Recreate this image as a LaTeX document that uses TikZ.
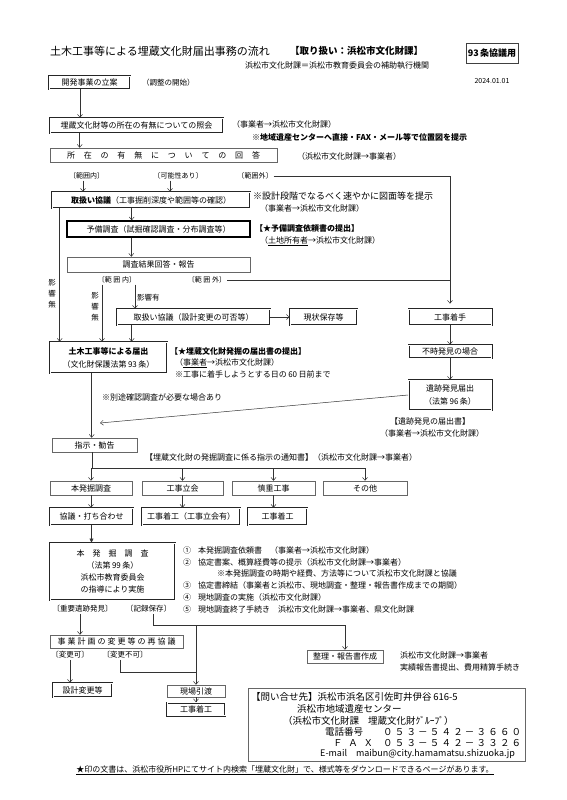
\documentclass[tikz,border=0pt]{standalone}
\usepackage{fontspec}
\setmainfont{Noto Sans CJK JP}
\usetikzlibrary{arrows.meta, calc}

\tikzset{
  sbox/.style={draw=black!60, line width=0.5pt, inner sep=0pt, align=center},
  dbox/.style={draw=black!85, double, double distance=0.8pt, line width=0.6pt, inner sep=0pt, align=center},
  tbox/.style={draw=black, line width=1.4pt, inner sep=0pt, align=center},
  arr/.style={-{Straight Barb[length=3pt,width=5pt]}, draw=black!80, line width=0.5pt},
  ln/.style={draw=black!80, line width=0.5pt},
  txt/.style={anchor=west, inner sep=0pt},
  lbl/.style={inner sep=1pt, font=\fontsize{7}{8}\selectfont},
}

\begin{document}
\begin{tikzpicture}[x=1pt, y=-1pt, every node/.style={font=\fontsize{8}{10}\selectfont}]
\useasboundingbox (0,0) rectangle (566,800);

% header
\node[txt, font=\fontsize{11}{13}\selectfont] (title) at (50,51) {土木工事等による埋蔵文化財届出事務の流れ};
\node[txt, font=\fontsize{9.5}{11}\selectfont\bfseries] (dept) at (290,51) {【取り扱い：浜松市文化財課】};
\node[txt] (hojo) at (245,66) {浜松市文化財課＝浜松市教育委員会の補助執行機関};
\node[sbox, draw=black!75, line width=0.7pt, minimum width=52, minimum height=20, font=\fontsize{9}{11}\selectfont\bfseries] (art93) at (492,53) {93\,条協議用};
\node[font=\fontsize{7}{8}\selectfont] (date) at (492,81) {2024.01.01};

% main flow
\node[dbox, minimum width=81, minimum height=13] (plan) at (89.5,82.5) {開発事業の立案};
\node[txt, font=\fontsize{7.5}{9}\selectfont] (chosei) at (142,82.5) {（調整の開始）};

\node[dbox, minimum width=173, minimum height=15] (inquiry) at (136.5,125.5) {埋蔵文化財等の所在の有無についての照会};
\node[txt] (n1) at (232,124) {（事業者→浜松市文化財課）};
\node[txt, font=\fontsize{8}{10}\selectfont\bfseries] (n2) at (252,137) {※地域遺産センターへ直接・FAX・メール等で位置図を提示};

\node[sbox, minimum width=227, minimum height=14] (answer) at (163.5,155) {\makebox[193pt][s]{所\hfill 在\hfill の\hfill 有\hfill 無\hfill に\hfill つ\hfill い\hfill て\hfill の\hfill 回\hfill 答}};
\node[txt] (n3) at (297,156) {（浜松市文化財課→事業者）};

\node[lbl] (in1) at (86.5,176) {〔範囲内〕};
\node[lbl] (maybe) at (178,176) {〔可能性あり〕};
\node[lbl] (out1) at (255,176) {〔範囲外〕};

\node[dbox, minimum width=198, minimum height=16] (consult1) at (151,200) {\textbf{取扱い協議}（工事掘削深度や範囲等の確認）};
\node[txt, font=\fontsize{9}{11}\selectfont] (n4) at (253,196) {※設計段階でなるべく速やかに図面等を提示};
\node[txt] (n5) at (260,208) {（事業者→浜松市文化財課）};

\node[tbox, minimum width=183, minimum height=16] (prelim) at (158.5,229) {予備調査（試掘確認調査・分布調査等）};
\node[txt, font=\fontsize{8}{10}\selectfont\bfseries] (n6) at (255,228) {【★予備調査依頼書の提出】};
\node[txt] (n7) at (260,241) {（\underline{土地所有者}→浜松市文化財課）};

\node[sbox, minimum width=183, minimum height=15] (result) at (158.5,264.5) {調査結果回答・報告};
\node[lbl] (in2) at (117,280) {〔範 囲 内〕};
\node[lbl] (out2) at (207,280) {〔範 囲 外〕};

\node[align=center, inner sep=0pt, font=\fontsize{7.5}{11}\selectfont] (noeff1) at (52,294) {影\\響\\無};
\node[align=center, inner sep=0pt, font=\fontsize{7.5}{11}\selectfont] (noeff2) at (95,307) {影\\響\\無};
\node[txt, font=\fontsize{7.5}{9}\selectfont] (eff) at (137,298) {影響有};

\node[dbox, minimum width=153, minimum height=16] (consult2) at (193.5,317) {取扱い協議（設計変更の可否等）};
\node[dbox, minimum width=67, minimum height=16] (preserve) at (323.5,317) {現状保存等};

\node[dbox, minimum width=83, minimum height=16] (start) at (450,317) {工事着手};
\node[dbox, minimum width=83, minimum height=13] (chance) at (450,351.5) {不時発見の場合};
\node[dbox, minimum width=83, minimum height=30, font=\fontsize{8}{13}\selectfont] (report96) at (450,395) {遺跡発見届出\\（法第\,96\,条）};
\node (n12) at (430,421) {【遺跡発見の届出書】};
\node (n13) at (432,433) {（事業者→浜松市文化財課）};

\node[dbox, minimum width=117, minimum height=31, font=\fontsize{8}{13}\selectfont] (notify93) at (108.5,357.5) {\textbf{土木工事等による届出}\\（文化財保護法第\,93\,条）};
\node[txt, font=\fontsize{8}{10}\selectfont\bfseries] (n8) at (170,351) {【★埋蔵文化財発掘の届出書の提出】};
\node[txt] (n9) at (175,363) {（\underline{事業者}→浜松市文化財課）};
\node[txt] (n10) at (175,374) {※工事に着手しようとする日の\,60\,日前まで};
\node[txt] (n11) at (102,397) {※別途確認調査が必要な場合あり};
\coordinate (hit) at (100,423);

\node[sbox, minimum width=85, minimum height=14] (instruct) at (94.5,445) {指示・勧告};
\node[txt] (n14) at (145,457) {【埋蔵文化財の発掘調査に係る指示の通知書】（浜松市文化財課→事業者）};
\coordinate (br) at (92,468);

\node[sbox, minimum width=82, minimum height=14] (honkutsu) at (91,488) {本発掘調査};
\node[sbox, minimum width=81, minimum height=14] (tachiai) at (182.5,488) {工事立会};
\node[sbox, minimum width=83, minimum height=14] (shincho) at (273.5,488) {慎重工事};
\node[sbox, minimum width=84, minimum height=14] (sonota) at (365,488) {その他};

\node[dbox, minimum width=83, minimum height=17] (kyogi) at (91.5,516.5) {協議・打ち合わせ};
\node[dbox, minimum width=98, minimum height=17] (chakko1) at (191,516.5) {工事着工（工事立会有）};
\node[dbox, minimum width=59, minimum height=17] (chakko2) at (277.5,516.5) {工事着工};

\node[dbox, line width=0.8pt, minimum width=125, minimum height=57, font=\fontsize{8}{12.3}\selectfont] (excav) at (112.5,571.5) {\makebox[72pt][s]{本\hfill 発\hfill 掘\hfill 調\hfill 査}\\（法第\,99\,条）\\浜松市教育委員会\\の指導により実施};

\node[txt] (li1) at (183,550) {①\hspace{7pt}本発掘調査依頼書\hspace{8pt}（事業者→浜松市文化財課）};
\node[txt] (li2) at (183,562) {②\hspace{7pt}協定書案、概算経費等の提示（浜松市文化財課→事業者）};
\node[txt] (li2a) at (217,573) {※本発掘調査の時期や経費、方法等について浜松市文化財課と協議};
\node[txt] (li3) at (183,585) {③\hspace{7pt}協定書締結（事業者と浜松市、現地調査・整理・報告書作成までの期間）};
\node[txt] (li4) at (183,597) {④\hspace{7pt}現地調査の実施（浜松市文化財課）};
\node[txt] (li5) at (183,609) {⑤\hspace{7pt}現地調査終了手続き\hspace{8pt}浜松市文化財課→事業者、県文化財課};

\node[lbl, font=\fontsize{7.5}{9}\selectfont] (juyo) at (82.5,609) {〔重要遺跡発見〕};
\node[lbl, font=\fontsize{7.5}{9}\selectfont] (kiroku) at (148.5,609) {〔記録保存〕};
\coordinate (rec) at (195,625);

\node[sbox, minimum width=133, minimum height=13] (replan) at (116.5,641.5) {\makebox[118pt][s]{事\hfill 業\hfill 計\hfill 画\hfill の\hfill 変\hfill 更\hfill 等\hfill の\hfill 再\hfill 協\hfill 議}};
\node[lbl, font=\fontsize{7.5}{9}\selectfont] (henkoka) at (70,655) {〔変更可〕};
\node[lbl, font=\fontsize{7.5}{9}\selectfont] (fuka) at (125,655) {〔変更不可〕};
\coordinate (jn) at (195,672);

\node[dbox, minimum width=59, minimum height=14] (design) at (82.5,690) {設計変更等};
\node[sbox, minimum width=58, minimum height=12] (handover) at (196,691) {現場引渡};
\node[dbox, minimum width=58, minimum height=13] (chakko3) at (196,709) {工事着工};

\node[sbox, minimum width=76, minimum height=13] (seiri) at (345,656.5) {整理・報告書作成};
\node[txt] (s1) at (400,655) {浜松市文化財課→事業者};
\node[txt] (s2) at (400,667) {実績報告書提出、費用精算手続き};

% contact
\node[sbox, minimum width=277, minimum height=73] (contact) at (386.5,724.5) {};
\node[txt, font=\fontsize{9.5}{11}\selectfont] (c1) at (251,697) {【問い合せ先】浜松市浜名区引佐町井伊谷\,616-5};
\node[txt, font=\fontsize{9.5}{11}\selectfont] (c2) at (297,709) {浜松市地域遺産センター};
\node[txt, font=\fontsize{9.5}{11}\selectfont] (c3) at (283,721) {（浜松市文化財課\hspace{9pt}埋蔵文化財ｸﾞﾙｰﾌﾟ）};
\node[txt, font=\fontsize{9.5}{11}\selectfont] (c4) at (325,732) {\makebox[58pt][l]{電話番号}\makebox[138pt][s]{０\hfill ５\hfill ３\hfill －\hfill ５\hfill ４\hfill ２\hfill －\hfill ３\hfill ６\hfill ６\hfill ０}};
\node[txt, font=\fontsize{9.5}{11}\selectfont] (c5) at (333,743) {\makebox[40pt][s]{Ｆ\hfill Ａ\hfill Ｘ}\hspace{10pt}\makebox[138pt][s]{０\hfill ５\hfill ３\hfill －\hfill ５\hfill ４\hfill ２\hfill －\hfill ３\hfill ３\hfill ２\hfill ６}};
\node[txt, font=\fontsize{9}{11}\selectfont] (c6) at (320,754) {E-mail\hspace{9pt}maibun@city.hamamatsu.shizuoka.jp};

\node (footer) at (285,770) {\underline{★印の文書は、浜松市役所HPにてサイト内検索「埋蔵文化財」で、様式等をダウンロードできるページがあります。}};

% connectors
\draw[arr] ([xshift=-9.5]plan.south) -- ([xshift=-9.5]plan.south |- inquiry.north);
\draw[arr] ([xshift=30]inquiry.south west) -- ([xshift=30]inquiry.south west |- answer.north);
\draw[arr] ([xshift=-3.5]in1.south) -- ([xshift=-3.5]in1.south |- consult1.north);
\draw[arr] ([xshift=-8]maybe.south) -- ([xshift=-8]maybe.south |- consult1.north);
\draw[arr, shorten >=5pt] (out1.east) -| (start.north);
\draw[ln] (out2.east) -- (out2.east -| start.north);
\draw[arr] ([xshift=80]consult1.south west) -- ([xshift=80]consult1.south west |- prelim.north);
\draw[arr] ([xshift=65]prelim.south west) -- ([xshift=65]prelim.south west |- result.north);
\draw[arr] ([xshift=8]consult1.south west) -- ([xshift=8]consult1.south west |- notify93.north);
\draw[arr] ([xshift=-15]in2.south) -- ([xshift=-15]in2.south |- notify93.north);
\draw[arr] ([xshift=18]in2.south) -- ([xshift=18]in2.south |- consult2.north);
\draw[arr] ([xshift=15]consult2.south west) -- ([xshift=15]consult2.south west |- notify93.north);
\draw[arr] (consult2.east) -- (preserve.west);
\draw[arr] (start.south) -- (chance.north);
\draw[arr] (chance.south) -- (report96.north);
\draw[arr] (report96.west) -- (hit);
\draw[arr] ([xshift=42]notify93.south west) -- ([xshift=42]notify93.south west |- instruct.north);
\draw[ln] (instruct.south -| br) -- (br) -- (br -| sonota.north);
\foreach \b in {honkutsu,tachiai,shincho,sonota}
  \draw[arr] (br -| \b.north) -- (\b.north);
\draw[arr] (honkutsu.south) -- (honkutsu.south |- kyogi.north);
\draw[arr] (tachiai.south) -- (tachiai.south |- chakko1.north);
\draw[arr] (shincho.south) -- (shincho.south |- chakko2.north);
\draw[ln, -{Triangle[length=4pt,width=4pt]}] (kyogi.south) -- (kyogi.south |- excav.north);
\draw[arr] ([xshift=-2.5]juyo.south) -- ([xshift=-2.5]juyo.south |- replan.north);
\draw[arr] ([xshift=4.5]kiroku.south) |- (rec -| seiri.north) -- (seiri.north);
\draw[arr] (rec -| handover.north) -- (handover.north);
\draw[ln] ([xshift=-5]fuka.south) |- (jn -| handover.north);
\draw[arr] (henkoka.south) -- (henkoka.south |- design.north);
\draw[arr] (handover.south) -- (chakko3.north);
\end{tikzpicture}
\end{document}
